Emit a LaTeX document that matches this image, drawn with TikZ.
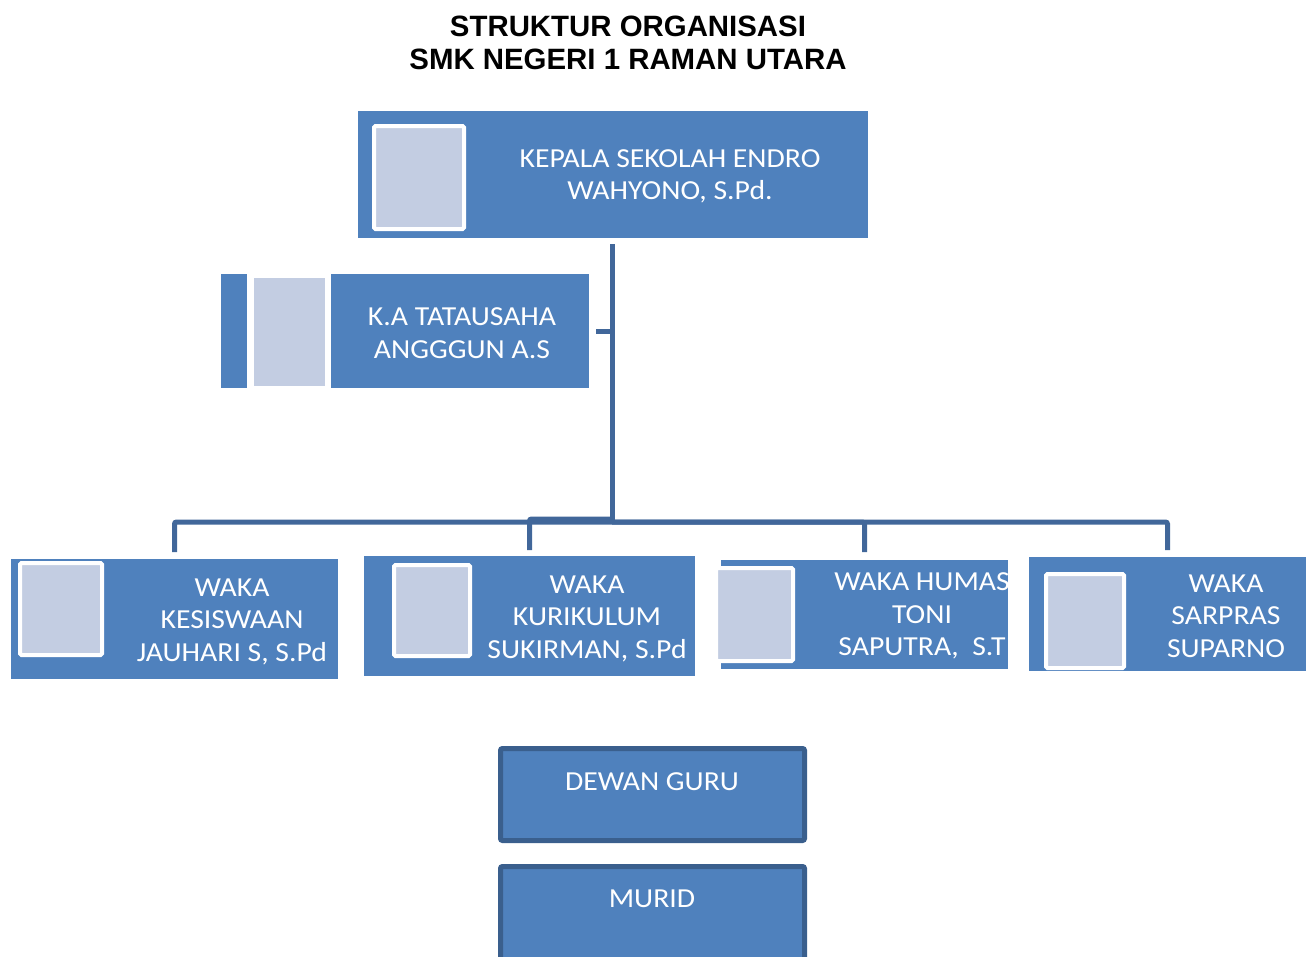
\documentclass[tikz,border=0pt]{standalone}
\usepackage{fontspec}
\setmainfont{Liberation Sans}
\newfontfamily\carlito[FakeStretch=1.08]{Carlito}
\usetikzlibrary{calc}
\definecolor{boxblue}{HTML}{4F81BD}
\definecolor{photofill}{HTML}{C3CDE2}
\definecolor{linecol}{HTML}{41679A}
\definecolor{bordercol}{HTML}{3A5F8D}
\tikzset{
  box/.style={fill=boxblue, draw=none, anchor=north west, inner sep=0pt, outer sep=0pt},
  photo/.style={fill=photofill, draw=white, line width=4pt, anchor=north west, inner sep=0pt, outer sep=0pt, rounded corners=1.5pt},
  flatphoto/.style={fill=photofill, draw=white, line width=1pt, anchor=north west, inner sep=0pt, outer sep=0pt},
  lbl/.style={text=white, font=\carlito\fontsize{27.5}{32.5}\selectfont, align=center, inner sep=0pt},
  conn/.style={draw=linecol, line width=5pt, rounded corners=2pt},
  framebox/.style={fill=boxblue, draw=bordercol, line width=5pt, rounded corners=2pt, anchor=north west, inner sep=0pt, outer sep=0pt},
}
\begin{document}
\begin{tikzpicture}[x=1pt,y=-1pt]
\clip (0,0) rectangle (1312,956);
% title
\node[font=\bfseries\fontsize{29.4}{33}\selectfont, align=center, inner sep=0pt] (title) at (628,43) {STRUKTUR ORGANISASI\\SMK NEGERI 1 RAMAN UTARA};
% kepala sekolah
\node[box, minimum width=510pt, minimum height=127pt] (ks) at (358,111) {};
\node[photo, minimum width=90pt, minimum height=103pt] (ksp) at (374,126) {};
\node[lbl] (kst) at (670,176.5) {KEPALA SEKOLAH ENDRO\\WAHYONO, S.Pd.};
% tata usaha
\node[box, minimum width=26pt, minimum height=114pt] (tabar) at (221,274) {};
\node[flatphoto, minimum width=72pt, minimum height=109pt] (tap) at (253,277) {};
\node[box, minimum width=258pt, minimum height=114pt] (ta) at (331,274) {};
\node[lbl] (tat) at (462,333) {K.A TATAUSAHA\\ANGGGUN A.S};
% waka boxes
\node[box, minimum width=327pt, minimum height=120pt] (kes) at (11,559) {};
\node[photo, minimum width=82pt, minimum height=92pt] (kesp) at (20,563) {};
\node[lbl] (kest) at (232,621.5) {WAKA\\KESISWAAN\\JAUHARI S, S.Pd};
\node[box, minimum width=331pt, minimum height=120pt] (kur) at (364,556) {};
\node[photo, minimum width=76pt, minimum height=91pt] (kurp) at (394,565) {};
\node[lbl] (kurt) at (587,618.5) {WAKA\\KURIKULUM\\SUKIRMAN, S.Pd};
\node[box, minimum width=287pt, minimum height=109pt] (hum) at (721,560) {};
\node[photo, minimum width=77pt, minimum height=93pt] (hump) at (716,568) {};
\node[lbl] (humt) at (922,616) {WAKA HUMAS\\TONI\\SAPUTRA,\ \ S.T};
\node[box, minimum width=277pt, minimum height=114pt] (sar) at (1029,557) {};
\node[photo, minimum width=78pt, minimum height=94pt] (sarp) at (1046,574) {};
\node[lbl] (sart) at (1226,616) {WAKA\\SARPRAS\\SUPARNO};
% bottom boxes
\node[framebox, minimum width=304pt, minimum height=92pt] (dg) at (500.5,748.5) {};
\node[lbl] (dgt) at (652,782) {DEWAN GURU};
\node[framebox, minimum width=304pt, minimum height=120pt] (mu) at (500.5,866.5) {};
\node[lbl] (mut) at (652,899) {MURID};
% connectors
\coordinate (top) at (612,244);
\coordinate (hub) at (612,522);
\coordinate (hubk) at (612,519);
\draw[conn] (top) -- (hub);
\draw[conn] ([xshift=7pt]ta.east) -- (ta.east -| hub);
\draw[conn] (hub) -| ([yshift=7pt]kes.north);
\draw[conn] (hubk) -| ([yshift=6pt]kur.north);
\draw[conn] (hub) -| ([yshift=8pt]hum.north);
\draw[conn] (hub) -| ([yshift=7pt]sar.north);
\end{tikzpicture}
\end{document}
